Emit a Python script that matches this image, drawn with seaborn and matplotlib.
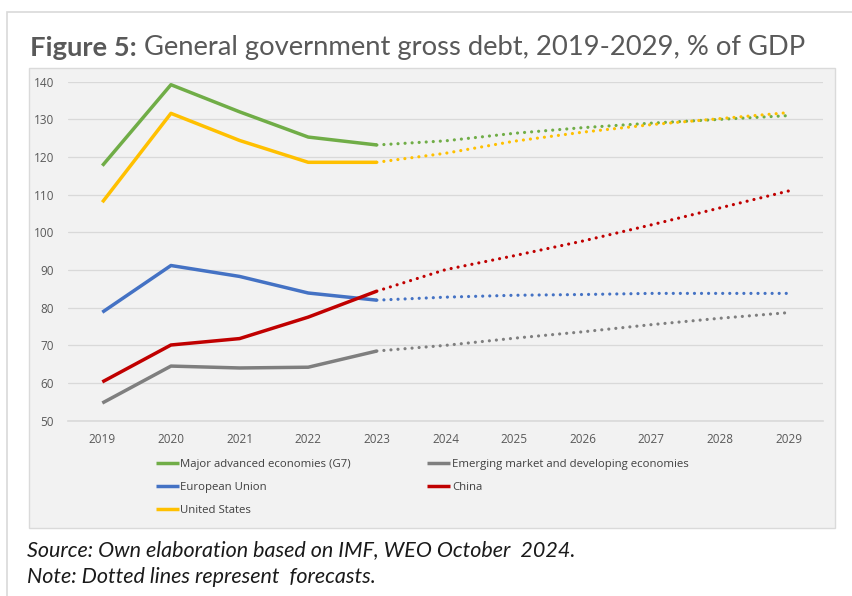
import matplotlib
matplotlib.use("Agg")
import matplotlib.pyplot as plt
from matplotlib.patches import Rectangle
import seaborn as sns
import pandas as pd

sns.set_theme(style="white")
plt.rcParams['font.family'] = ['Open Sans', 'DejaVu Sans']

years = [2019, 2020, 2021, 2022, 2023, 2024, 2025, 2026, 2027, 2028, 2029]
g7 = [117.7, 139.2, 132.0, 125.3, 123.2, 124.3, 126.3, 127.8, 129.0, 130.0, 131.0]
emde = [54.7, 64.5, 64.0, 64.2, 68.5, 70.0, 71.9, 73.6, 75.5, 77.2, 78.7]
eu = [78.8, 91.2, 88.3, 83.9, 82.0, 82.8, 83.3, 83.5, 83.8, 83.8, 83.8]
china = [60.3, 70.1, 71.8, 77.5, 84.4, 90.1, 93.8, 97.7, 102.0, 106.5, 111.0]
us = [108.0, 131.6, 124.4, 118.6, 118.6, 121.0, 124.2, 126.6, 128.6, 130.2, 131.8]
last_actual = 2023

series_names = ["Major advanced economies (G7)", "Emerging market and developing economies",
                "European Union", "China", "United States"]
series_vals = [g7, emde, eu, china, us]
colors = ["#70AD47", "#7F7F7F", "#4472C4", "#C00000", "#FFC000"]
palette = dict(zip(series_names, colors))

rows = []
for name, vals in zip(series_names, series_vals):
    for y, v in zip(years, vals):
        rows.append({"year": y, "value": v, "series": name})
df = pd.DataFrame(rows)
actual = df[df["year"] <= last_actual]
forecast = df[df["year"] >= last_actual]

W, H = 853, 596
fig = plt.figure(figsize=(W / 100, H / 100), dpi=100)
fig.patch.set_facecolor("white")

def fx(px):
    return px / W

def fy(py):
    return 1 - py / H

# outer frame
fig.add_artist(Rectangle((fx(7), fy(600)), fx(900), fy(12) - fy(600), transform=fig.transFigure,
                         facecolor="white", edgecolor="#d9d9d9", lw=1.2, zorder=0))
# chart box
fig.add_artist(Rectangle((fx(29), fy(528)), fx(835) - fx(29), fy(68) - fy(528), transform=fig.transFigure,
                         facecolor="#f2f2f2", edgecolor="#dadada", lw=1.0, zorder=0))

ax = fig.add_axes([fx(68), fy(420.7), fx(823) - fx(68), fy(81.7) - fy(420.7)])
ax.patch.set_alpha(0)

sns.lineplot(data=actual, x="year", y="value", hue="series", hue_order=series_names,
             palette=palette, lw=2.5, ax=ax, solid_capstyle="butt", clip_on=False)
sns.lineplot(data=forecast, x="year", y="value", hue="series", hue_order=series_names,
             palette=palette, lw=2.3, ax=ax, legend=False,
             linestyle=(0, (0.01, 2.2)), dash_capstyle="round", clip_on=False)

handles, labels = ax.get_legend_handles_labels()
if ax.get_legend() is not None:
    ax.get_legend().remove()

ax.set_xlim(2018.5, 2029.5)
ax.set_ylim(50, 140)
ax.set_xticks(years)
ax.set_yticks(range(50, 141, 10))
ax.set_xlabel("")
ax.set_ylabel("")
ax.yaxis.grid(True, color="#d9d9d9", lw=0.9)
ax.set_axisbelow(True)
for s in ["top", "right", "left"]:
    ax.spines[s].set_visible(False)
ax.spines["bottom"].set_color("#d9d9d9")
ax.spines["bottom"].set_linewidth(1.2)
ax.tick_params(axis="both", length=0, labelsize=8.5, labelcolor="#595959")
ax.tick_params(axis="y", pad=10)
ax.tick_params(axis="x", pad=9)

order = [0, 2, 4, 1, 3]
leg = fig.legend([handles[i] for i in order], [labels[i] for i in order],
                 loc="upper left", bbox_to_anchor=(fx(156), fy(459)), ncol=2, frameon=False,
                 fontsize=8.2, handlelength=2.0, handletextpad=0.15, labelspacing=1.05,
                 columnspacing=6.7, borderpad=0, borderaxespad=0)
for t in leg.get_texts():
    t.set_color("#404040")

# title
tfont = ['Lato', 'DejaVu Sans']
t1 = fig.text(fx(30), fy(56), "Figure 5:", fontsize=19.7, fontweight="bold", color="#595959",
              family=tfont, va="baseline", ha="left")
ax.annotate(" General government gross debt, 2019-2029, % of GDP", xy=(1, 0), xycoords=t1,
            fontsize=19.7, color="#595959", family=tfont, va="bottom", ha="left",
            annotation_clip=False)

fig.text(fx(27), fy(556), "Source: Own elaboration based on IMF, WEO October  2024.",
         fontsize=15.5, style="italic", family=tfont, color="#1a1a1a", va="baseline")
fig.text(fx(27), fy(583), "Note: Dotted lines represent  forecasts.",
         fontsize=15.5, style="italic", family=tfont, color="#1a1a1a", va="baseline")

fig.savefig("out.png", dpi=100)
